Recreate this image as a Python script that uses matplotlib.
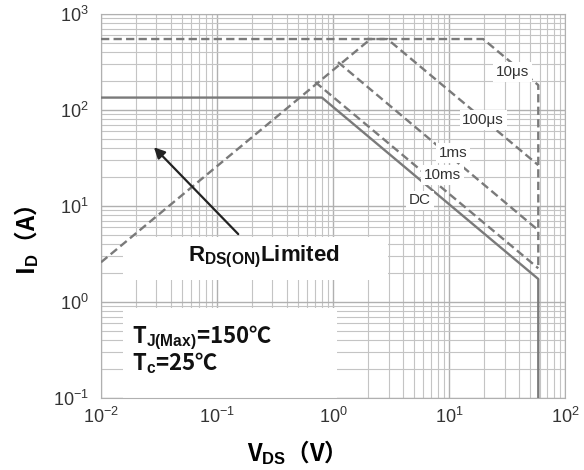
import numpy as np
import matplotlib.pyplot as plt
from matplotlib.patches import Rectangle

plt.rcParams['font.family'] = ['Liberation Sans', 'Noto Sans CJK SC', 'DejaVu Sans']
plt.rcParams['mathtext.fontset'] = 'custom'
plt.rcParams['mathtext.rm'] = 'Liberation Sans'
plt.rcParams['mathtext.it'] = 'Liberation Sans:italic'
plt.rcParams['mathtext.bf'] = 'Liberation Sans:bold'

# SOA curves (V, A)
dc_v = [0.01, 0.8, 58.5, 58.5]
dc_i = [135, 135, 1.74, 0.1]
ms10_v = [0.7, 58.5]
ms10_i = [196, 2.25]
ms1_v = [1.1, 58.5]
ms1_i = [316, 5.6]
us100_v = [1.96, 2.93, 58.5]
us100_i = [550, 550, 26.7]
us10_v = [0.01, 19.6, 58.5, 58.5]
us10_i = [550, 550, 182, 2.2]
rds_v = [0.01, 2.1]
rds_i = [2.6, 550]

curve_labels = ["10μs", "100μs", "1ms", "10ms", "DC"]
label_v = [34.9, 19.6, 10.8, 8.7, 5.6]
label_i = [249, 78.7, 35.6, 21, 11.5]

gray = "#7a7a7a"

fig = plt.figure(figsize=(5.84, 4.70), dpi=100)
ax = fig.add_axes([0.173, 0.153, 0.795, 0.817])
ax.set_xscale("log")
ax.set_yscale("log")
ax.set_xlim(0.01, 100)
ax.set_ylim(0.1, 1000)

ax.grid(True, which="major", color="#b0b0b0", linewidth=1.0)
ax.grid(True, which="minor", color="#c4c4c4", linewidth=0.8)
ax.set_axisbelow(True)
ax.tick_params(which="both", length=0, labelsize=13, labelcolor="#333333")
ax.tick_params(axis="x", pad=6)
ax.tick_params(axis="y", pad=9)
for s in ax.spines.values():
    s.set_color("#b0b0b0")

# white boxes behind the notes
ax.add_patch(Rectangle((0.0155, 1.69), 2.98 - 0.0155, 4.75 - 1.69,
                       facecolor="white", edgecolor="none", zorder=1.5))
ax.add_patch(Rectangle((0.0155, 0.1), 1.08 - 0.0155, 0.866 - 0.1,
                       facecolor="white", edgecolor="none", zorder=1.5))

dash = (0, (3.5, 1.8))
lw = 1.7
ax.plot(dc_v, dc_i, color=gray, lw=lw, zorder=3)
ax.plot(ms10_v, ms10_i, color=gray, lw=lw, linestyle=dash, zorder=3)
ax.plot(ms1_v, ms1_i, color=gray, lw=lw, linestyle=dash, zorder=3)
ax.plot(us100_v, us100_i, color=gray, lw=lw, linestyle=dash, zorder=3)
ax.plot(us10_v, us10_i, color=gray, lw=lw, linestyle=dash, zorder=3)
ax.plot(rds_v, rds_i, color=gray, lw=lw, linestyle=dash, zorder=3)

for t, v, i in zip(curve_labels, label_v, label_i):
    ax.text(v, i, t, fontsize=11, color="#333333", ha="center", va="center", zorder=4,
            bbox=dict(facecolor="white", edgecolor="none", pad=2))

ax.annotate("", xy=(0.0275, 43), xytext=(0.158, 4.87),
            arrowprops=dict(arrowstyle="-|>", color="#222222", lw=1.6,
                            mutation_scale=16), zorder=4)

ax.text(0.254, 2.94, r"R$_{\mathbf{DS(ON)}}$Limited", fontsize=16, fontweight="bold",
        ha="center", va="center", color="#111111", zorder=4)

ax.text(0.0185, 0.374, "T$_{\\mathbf{J(Max)}}$=150℃", fontsize=16, fontweight="bold",
        family="Noto Sans CJK SC", ha="left", va="baseline", color="#111111", zorder=4)
ax.text(0.0185, 0.196, "T$_{\\mathbf{c}}$=25℃", fontsize=16, fontweight="bold",
        family="Noto Sans CJK SC", ha="left", va="baseline", color="#111111", zorder=4)

fig.text(290 / 584, 1 - 453 / 470, "V$_{\\mathbf{DS}}$（V）", fontsize=17, fontweight="bold",
         family="Noto Sans CJK SC", ha="center", va="center")
fig.text(27 / 584, 1 - 240 / 470, "I$_{\\mathbf{D}}$（A）", fontsize=17, fontweight="bold",
         family="Noto Sans CJK SC", ha="center", va="center", rotation=90)

fig.savefig("out.png", dpi=100)
